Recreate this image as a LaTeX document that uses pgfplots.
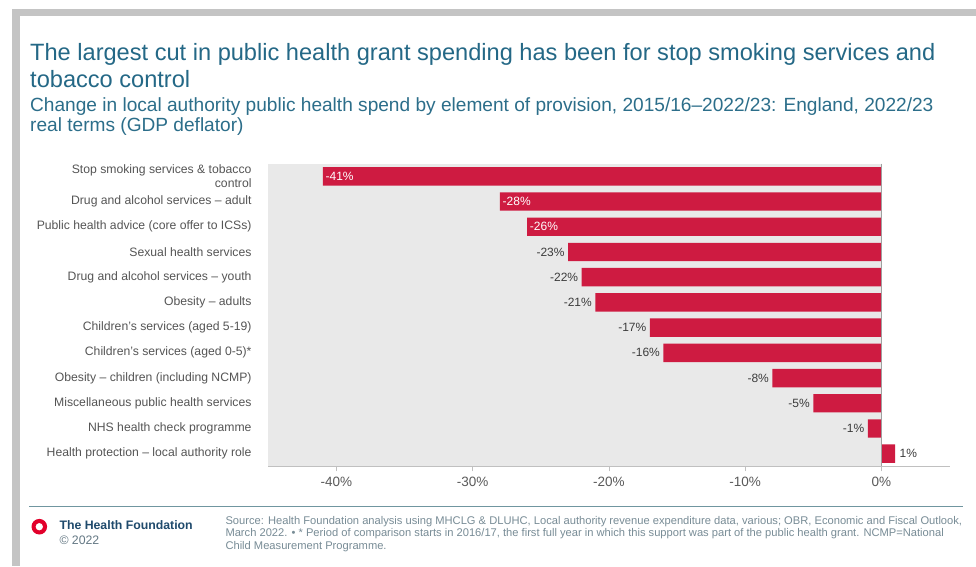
\documentclass[border=0pt]{standalone}
\usepackage{fontspec}
\setmainfont{Liberation Sans}
\usepackage{pgfplots}
\pgfplotsset{compat=1.18}
\definecolor{titlecol}{RGB}{36,104,134}
\definecolor{subcol}{RGB}{44,110,138}
\definecolor{barred}{RGB}{206,27,65}
\definecolor{bggray}{RGB}{233,233,233}
\definecolor{labgray}{RGB}{85,85,85}
\definecolor{valgray}{RGB}{60,60,60}
\definecolor{axisgray}{RGB}{192,192,192}
\definecolor{zerogray}{RGB}{160,160,160}
\definecolor{ticktext}{RGB}{90,90,90}
\definecolor{footline}{RGB}{112,150,160}
\definecolor{framegray}{RGB}{196,196,196}
\definecolor{logored}{RGB}{226,0,43}
\definecolor{footnavy}{RGB}{31,74,108}
\definecolor{copygray}{RGB}{100,120,132}
\definecolor{srcgray}{RGB}{120,140,150}
\begin{document}
\begin{tikzpicture}[x=1pt,y=1pt]
\path[use as bounding box] (0,0) rectangle (976,566);
\fill[white] (0,0) rectangle (976,566);
\fill[framegray] (12,549.5) rectangle (976,557);
\fill[framegray] (12,0) rectangle (20,557);

\node[anchor=base west, inner sep=0pt, font=\fontsize{23.6}{28}\selectfont, text=titlecol] at (30,505.3) {The largest cut in public health grant spending has been for stop smoking services and};
\node[anchor=base west, inner sep=0pt, font=\fontsize{23.6}{28}\selectfont, text=titlecol] at (30,478.7) {tobacco control};
\node[anchor=base west, inner sep=0pt, font=\fontsize{19.1}{23}\selectfont, text=subcol] at (30,454.3) {Change in local authority public health spend by element of provision, 2015/16–2022/23: England, 2022/23};
\node[anchor=base west, inner sep=0pt, font=\fontsize{19.1}{23}\selectfont, text=subcol] at (30,434.3) {real terms (GDP deflator)};

\begin{axis}[
  at={(268.3pt,99.7pt)}, anchor=south west,
  scale only axis, width=681.2pt, height=302.6pt,
  xmin=-45, xmax=5, ymin=0.5, ymax=12.5, y dir=reverse,
  axis lines*=left,
  x axis line style={draw=axisgray, line width=1pt},
  y axis line style={draw=none},
  xtick={-40,-30,-20,-10,0},
  xticklabels={-40\%,-30\%,-20\%,-10\%,0\%},
  ytick={1,...,12},
  yticklabels={{Stop smoking services \& tobacco\\control},
    {Drug and alcohol services – adult},
    {Public health advice (core offer to ICSs)},
    {Sexual health services},
    {Drug and alcohol services – youth},
    {Obesity – adults},
    {Children's services (aged 5-19)},
    {Children's services (aged 0-5)*},
    {Obesity – children (including NCMP)},
    {Miscellaneous public health services},
    {NHS health check programme},
    {Health protection – local authority role}},
  tick align=outside, major tick length=5pt,
  xtick style={draw=axisgray, line width=0.8pt},
  ytick style={draw=none},
  xticklabel style={font=\fontsize{13.5}{16}\selectfont, text=ticktext, inner sep=0pt, anchor=center, yshift=-11pt},
  yticklabel style={font=\fontsize{12.2}{13.5}\selectfont, text=labgray, align=right, inner sep=0pt, xshift=-11.6pt},
  axis on top,
  clip=false,
]
\addplot[fill=bggray, draw=none, forget plot] coordinates {(-45,0.5) (0,0.5) (0,12.5) (-45,12.5)} --cycle;
\addplot[xbar, bar width=0.73, fill=barred, draw=none] coordinates {
  (-41,1) (-28,2) (-26,3) (-23,4) (-22,5) (-21,6) (-17,7) (-16,8) (-8,9) (-5,10) (-1,11) (1,12)};
\draw[zerogray, line width=0.8pt] (axis cs:0,0.5) -- (axis cs:0,12.5);
\addplot[draw=none, mark=none, point meta=explicit symbolic,
  nodes near coords={\pgfplotspointmeta\%},
  nodes near coords style={anchor=west, text=white, inner sep=0pt, xshift=2.6pt, font=\fontsize{12}{14}\selectfont}]
  coordinates {(-41,1)[-41] (-28,2)[-28] (-26,3)[-26]};
\addplot[draw=none, mark=none, point meta=explicit symbolic,
  nodes near coords={\pgfplotspointmeta\%},
  nodes near coords style={anchor=east, text=valgray, inner sep=0pt, xshift=-3.3pt, font=\fontsize{12}{14}\selectfont}]
  coordinates {(-23,4)[-23] (-22,5)[-22] (-21,6)[-21] (-17,7)[-17] (-16,8)[-16] (-8,9)[-8] (-5,10)[-5] (-1,11)[-1]};
\addplot[draw=none, mark=none, point meta=explicit symbolic,
  nodes near coords={\pgfplotspointmeta\%},
  nodes near coords style={anchor=west, text=valgray, inner sep=0pt, xshift=4.5pt, font=\fontsize{12}{14}\selectfont}]
  coordinates {(1,12)[1]};
\end{axis}

\draw[footline, line width=1.2pt] (29.3,59.3) -- (963,59.3);
\fill[logored, even odd rule] (39.3,39.3) circle (7.8) circle (3.8);
\node[anchor=base west, inner sep=0pt, font=\bfseries\fontsize{12.3}{14}\selectfont, text=footnavy] at (59.3,36.7) {The Health Foundation};
\node[anchor=base west, inner sep=0pt, font=\fontsize{12.3}{14}\selectfont, text=copygray] at (59.3,21.7) {© 2022};
\node[anchor=base west, inner sep=0pt, font=\fontsize{11.15}{12}\selectfont, text=srcgray] at (225.3,42) {Source: Health Foundation analysis using MHCLG \& DLUHC, Local authority revenue expenditure data, various; OBR, Economic and Fiscal Outlook,};
\node[anchor=base west, inner sep=0pt, font=\fontsize{11.15}{12}\selectfont, text=srcgray] at (225.3,29.3) {March 2022. • * Period of comparison starts in 2016/17, the first full year in which this support was part of the public health grant. NCMP=National};
\node[anchor=base west, inner sep=0pt, font=\fontsize{11.15}{12}\selectfont, text=srcgray] at (225.3,16.7) {Child Measurement Programme.};
\end{tikzpicture}
\end{document}
